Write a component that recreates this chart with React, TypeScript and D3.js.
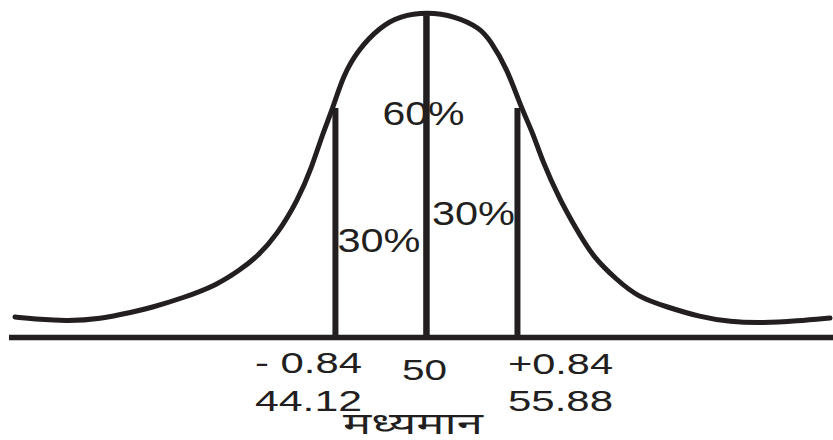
import React from "react";
import * as d3 from "d3";

// Normal curve outline: score value and relative height (peak = 100)
const curveX = [23.42, 25.03, 26.78, 28.91, 31.04, 32.14, 34.27, 36.47, 37.95, 39.05, 40.34, 41.7, 42.6, 43.31, 43.96, 44.61, 45.57, 47.0, 48.29, 50.03, 51.84, 53.46, 54.1, 55.2, 56.1, 56.88, 57.46, 58.62, 59.72, 60.76, 62.31, 63.66, 65.54, 67.67, 69.61, 71.74, 73.93, 76.07];
const curveH = [6.15, 5.38, 4.92, 5.54, 7.69, 8.92, 12.0, 16.0, 20.62, 24.62, 31.38, 42.15, 52.31, 62.77, 70.46, 80.31, 88.31, 95.38, 98.77, 100, 98.77, 95.08, 91.38, 82.77, 70.77, 62.77, 54.46, 42.15, 32.92, 24.62, 17.54, 12.31, 9.23, 6.15, 4.62, 4.31, 4.92, 5.85];

// Ordinates at -0.84σ, mean, +0.84σ
const markerValues = [44.12, 50, 55.88];
const markerHeights = [70.5, 99, 70.5];
const zLabels = ["- 0.84", "50", "+0.84"];
const scoreLabels = ["44.12", "", "55.88"];
const meanLabel = "मध्यमान";
const centreLabel = "60%";
const sideLabels = ["30%", "30%"];

const W = 833;
const H = 440;
const INK = "#231f20";

export default function App() {
  const x = d3.scaleLinear().domain([23, 76.2]).range([8.5, 832]);
  const y = d3.scaleLinear().domain([0, 100]).range([337, 12]);

  const pts: [number, number][] = curveX.map((v, i) => [v, curveH[i]]);
  const line = d3
    .line<[number, number]>()
    .x((d) => x(d[0]))
    .y((d) => y(d[1]))
    .curve(d3.curveBasis);

  const font = "'Liberation Sans', Arial, sans-serif";

  return (
    <svg
      width={W}
      height={H}
      style={{ position: "absolute", left: 0, top: 0, background: "#fff" }}
    >
      <rect width={W} height={H} fill="#fff" />
      {/* baseline */}
      <line x1={9} x2={833} y1={337.5} y2={337.5} stroke={INK} strokeWidth={5.5} />
      {/* ordinates */}
      {markerValues.map((v, i) => (
        <line
          key={"m" + i}
          x1={x(v)}
          x2={x(v)}
          y1={337}
          y2={y(markerHeights[i])}
          stroke={INK}
          strokeWidth={i === 1 ? 6.5 : 6}
        />
      ))}
      {/* curve */}
      <path d={line(pts) || ""} fill="none" stroke={INK} strokeWidth={5} strokeLinecap="round" />

      {/* area labels */}
      <text x={x(50) - 44} y={125} fontFamily={font} fontSize={33} fill={INK} textLength={82} lengthAdjust="spacingAndGlyphs">
        {centreLabel}
      </text>
      <text x={x(markerValues[0]) + 2} y={252} fontFamily={font} fontSize={33} fill={INK} textLength={83} lengthAdjust="spacingAndGlyphs">
        {sideLabels[0]}
      </text>
      <text x={x(50) + 5.5} y={225} fontFamily={font} fontSize={33} fill={INK} textLength={83} lengthAdjust="spacingAndGlyphs">
        {sideLabels[1]}
      </text>

      {/* axis labels */}
      <text x={255} y={373} fontFamily={font} fontSize={30} fill={INK} textLength={107} lengthAdjust="spacingAndGlyphs">
        {zLabels[0]}
      </text>
      <text x={402} y={380} fontFamily={font} fontSize={30} fill={INK} textLength={45} lengthAdjust="spacingAndGlyphs">
        {zLabels[1]}
      </text>
      <text x={508} y={374} fontFamily={font} fontSize={30} fill={INK} textLength={105} lengthAdjust="spacingAndGlyphs">
        {zLabels[2]}
      </text>
      <text x={255} y={411} fontFamily={font} fontSize={30} fill={INK} textLength={107} lengthAdjust="spacingAndGlyphs">
        {scoreLabels[0]}
      </text>
      <text x={508} y={411} fontFamily={font} fontSize={30} fill={INK} textLength={105} lengthAdjust="spacingAndGlyphs">
        {scoreLabels[2]}
      </text>
      <text x={343} y={434} fontFamily="'Noto Sans Devanagari', 'Noto Sans', sans-serif" fontSize={30} fontWeight={400} fill={INK} textLength={140} lengthAdjust="spacingAndGlyphs">
        {meanLabel}
      </text>
    </svg>
  );
}
